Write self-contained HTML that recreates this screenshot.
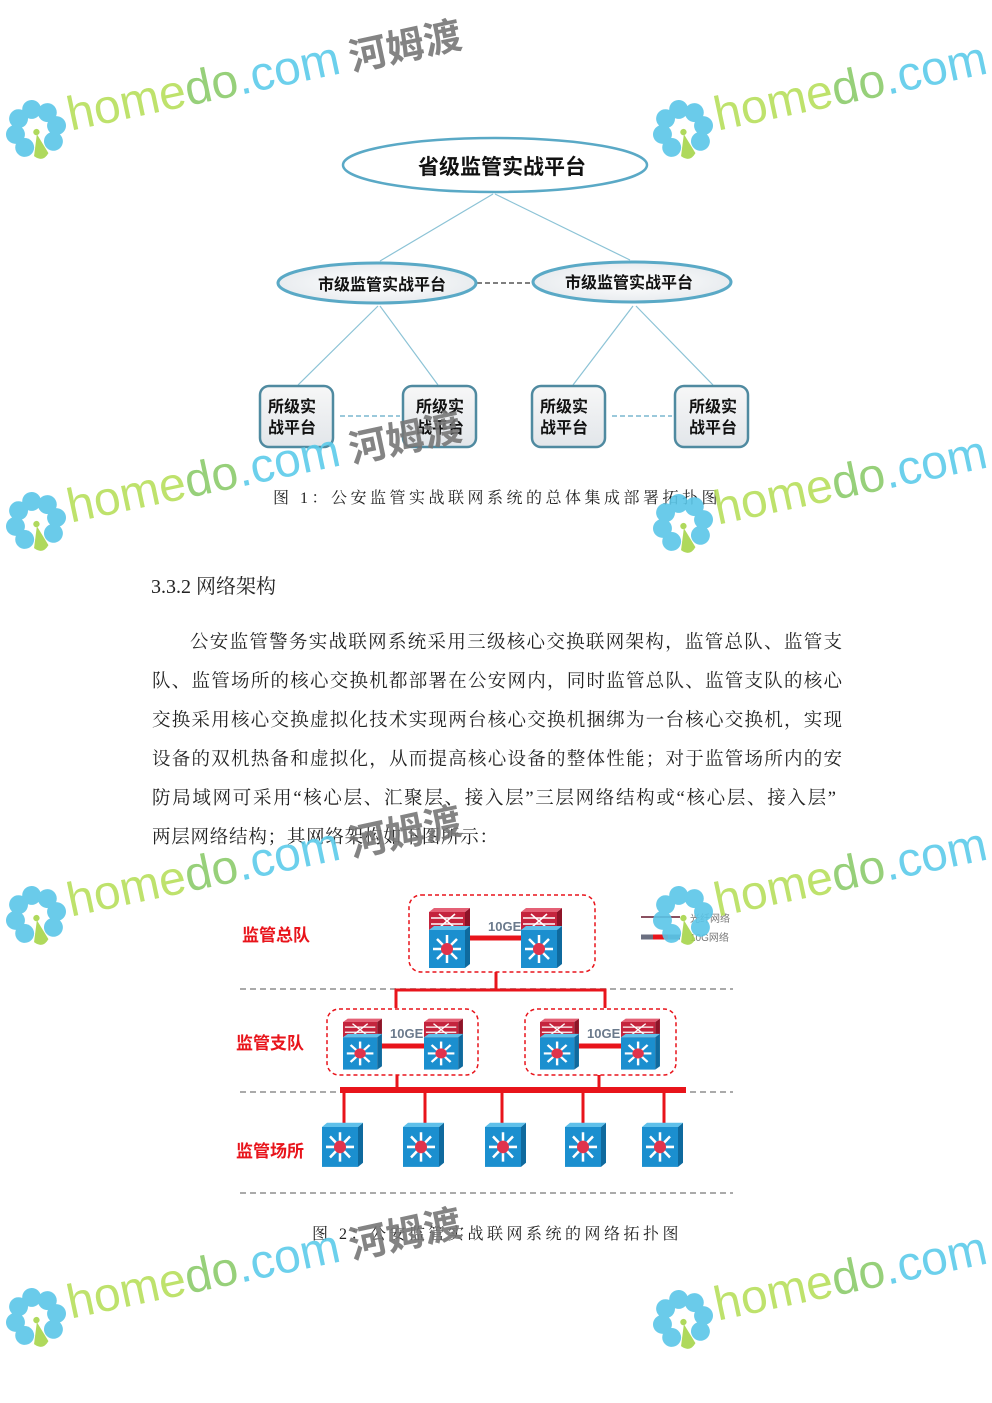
<!DOCTYPE html>
<html><head><meta charset="utf-8"><style>
html,body{margin:0;padding:0;background:#fff;}
svg{display:block;}
.s{font-family:"Liberation Serif","Noto Serif CJK SC",serif;fill:#222;}
.b{font-family:"Liberation Sans","Noto Sans CJK SC",sans-serif;font-weight:bold;fill:#111;}
.r{font-family:"Liberation Sans","Noto Sans CJK SC",sans-serif;font-weight:bold;fill:#e8141b;font-size:17px;}
.wm{font-family:"Liberation Sans","Noto Sans CJK SC",sans-serif;}
</style></head><body>
<svg width="992" height="1403" viewBox="0 0 992 1403" xmlns="http://www.w3.org/2000/svg">
<defs>
<radialGradient id="eg" cx="50%" cy="50%" r="60%"><stop offset="0" stop-color="#fff"/><stop offset="1" stop-color="#e4e8ec"/></radialGradient>
<linearGradient id="bg" x1="0" y1="0" x2="0" y2="1"><stop offset="0" stop-color="#f7f7f7"/><stop offset="1" stop-color="#e2e6ea"/></linearGradient>
<g id="flw">
<circle cx="0" cy="-20" r="9" fill="#5ac6e8"/><circle cx="14" cy="-14" r="9" fill="#5ac6e8"/><circle cx="20" cy="0" r="9" fill="#5ac6e8"/><circle cx="14" cy="14" r="9" fill="#5ac6e8"/><circle cx="-14" cy="14" r="9" fill="#5ac6e8"/><circle cx="-20" cy="0" r="9" fill="#5ac6e8"/><circle cx="-14" cy="-14" r="9" fill="#5ac6e8"/><path d="M0 4 L-7 24 Q0 32 7 24 Z" fill="#a6d54a"/><circle cx="0" cy="2" r="3" fill="#a6d54a"/>
</g>
<g id="sw">
<rect x="0" y="0" width="36" height="38" fill="#1b8fcf"/><polygon points="36,0 41,-4 41,34 36,38" fill="#0f6a9e"/><polygon points="0,0 5,-4 41,-4 36,0" fill="#5fc0ea"/>
<g stroke="#fff" stroke-width="2.5"><line x1="18" y1="5" x2="18" y2="33"/><line x1="4" y1="19" x2="32" y2="19"/><line x1="8" y1="9" x2="28" y2="29"/><line x1="28" y1="9" x2="8" y2="29"/></g>
<circle cx="18" cy="19" r="6" fill="#e0334c"/>
</g>
<g id="rt">
<rect x="0" y="0" width="36" height="18" fill="#c4243d"/><polygon points="36,0 41,-4 41,14 36,18" fill="#8e1428"/><polygon points="0,0 5,-4 41,-4 36,0" fill="#e46075"/>
<g stroke="#fff" stroke-width="1.5"><line x1="2" y1="6" x2="34" y2="6"/><line x1="2" y1="12" x2="34" y2="12"/><line x1="10" y1="2" x2="26" y2="16"/><line x1="26" y1="2" x2="10" y2="16"/></g>
</g>
</defs>

<!-- Diagram 1 -->
<g stroke="#8cc3d6" stroke-width="1.2" fill="none">
<line x1="493" y1="194" x2="380" y2="261"/><line x1="495" y1="194" x2="630" y2="260"/>
<line x1="378" y1="306" x2="298" y2="385"/><line x1="380" y1="306" x2="438" y2="385"/>
<line x1="633" y1="306" x2="573" y2="385"/><line x1="636" y1="306" x2="713" y2="385"/>
</g>
<line x1="477" y1="283" x2="533" y2="283" stroke="#555" stroke-width="1.5" stroke-dasharray="5,3"/>
<line x1="340" y1="416" x2="400" y2="416" stroke="#7ab7cf" stroke-width="1.5" stroke-dasharray="5,3"/>
<line x1="612" y1="416" x2="672" y2="416" stroke="#7ab7cf" stroke-width="1.5" stroke-dasharray="5,3"/>
<ellipse cx="495" cy="165" rx="152" ry="27" fill="#fff" stroke="#5aa9c6" stroke-width="2.5"/>
<text x="502" y="174" class="b" font-size="21" text-anchor="middle">省级监管实战平台</text>
<ellipse cx="377" cy="283" rx="99" ry="20" fill="url(#eg)" stroke="#5aa9c6" stroke-width="3"/>
<text x="382" y="290" class="b" font-size="16" text-anchor="middle">市级监管实战平台</text>
<ellipse cx="632" cy="282" rx="99" ry="20" fill="url(#eg)" stroke="#5aa9c6" stroke-width="3"/>
<text x="629" y="288" class="b" font-size="16" text-anchor="middle">市级监管实战平台</text>
<g stroke="#4f8aa0" stroke-width="2.5" fill="url(#bg)">
<rect x="260" y="386" width="73" height="61" rx="9"/><rect x="403" y="386" width="73" height="61" rx="9"/>
<rect x="532" y="386" width="73" height="61" rx="9"/><rect x="675" y="386" width="73" height="61" rx="9"/>
</g>
<g class="b" font-size="16">
<text x="268" y="412">所级实</text><text x="268" y="433">战平台</text>
<text x="416" y="412">所级实</text><text x="416" y="433">战平台</text>
<text x="540" y="412">所级实</text><text x="540" y="433">战平台</text>
<text x="689" y="412">所级实</text><text x="689" y="433">战平台</text>
</g>
<text x="497" y="503" class="s" font-size="16" text-anchor="middle" letter-spacing="3.5">图 1：公安监管实战联网系统的总体集成部署拓扑图</text>

<text x="151" y="593" class="s" font-size="20">3.3.2 网络架构</text>
<g class="s" font-size="18.5">
<text x="190" y="648" textLength="652" lengthAdjust="spacing">公安监管警务实战联网系统采用三级核心交换联网架构，监管总队、监管支</text>
<text x="152" y="687" textLength="690" lengthAdjust="spacing">队、监管场所的核心交换机都部署在公安网内，同时监管总队、监管支队的核心</text>
<text x="152" y="726" textLength="690" lengthAdjust="spacing">交换采用核心交换虚拟化技术实现两台核心交换机捆绑为一台核心交换机，实现</text>
<text x="152" y="765" textLength="690" lengthAdjust="spacing">设备的双机热备和虚拟化，从而提高核心设备的整体性能；对于监管场所内的安</text>
<text x="152" y="804" textLength="684" lengthAdjust="spacing">防局域网可采用“核心层、汇聚层、接入层”三层网络结构或“核心层、接入层”</text>
<text x="152" y="843" textLength="346" lengthAdjust="spacing">两层网络结构；其网络架构如下图所示：</text>
</g>

<!-- Diagram 2 -->
<g stroke="#aaa" stroke-width="2" stroke-dasharray="6,4">
<line x1="240" y1="989" x2="733" y2="989"/><line x1="240" y1="1092" x2="733" y2="1092"/><line x1="240" y1="1193" x2="733" y2="1193"/>
</g>
<g fill="none" stroke="#e8141b" stroke-width="1.5" stroke-dasharray="4,3">
<rect x="409" y="895" width="186" height="77" rx="12"/>
<rect x="327" y="1009" width="151" height="66" rx="12"/>
<rect x="525" y="1009" width="151" height="66" rx="12"/>
</g>
<g stroke="#e8141b" stroke-width="3" fill="none">
<polyline points="496,972 496,990"/><polyline points="396,1008 396,990 605,990 605,1008"/>
<line x1="397" y1="1075" x2="397" y2="1090"/><line x1="599" y1="1075" x2="599" y2="1090"/>
<line x1="344" y1="1090" x2="344" y2="1123"/><line x1="425" y1="1090" x2="425" y2="1123"/><line x1="502" y1="1090" x2="502" y2="1123"/><line x1="583" y1="1090" x2="583" y2="1123"/><line x1="664" y1="1090" x2="664" y2="1123"/>
</g>
<rect x="340" y="1087" width="346" height="6" fill="#e8141b"/>
<g stroke="#e8141b" stroke-width="5">
<line x1="468" y1="938" x2="522" y2="938"/><line x1="378" y1="1046" x2="425" y2="1046"/><line x1="576" y1="1046" x2="623" y2="1046"/>
</g>
<g transform="translate(429,912)"><use href="#rt"/><g transform="translate(0,18)"><use href="#sw"/></g></g>
<g transform="translate(521,912)"><use href="#rt"/><g transform="translate(0,18)"><use href="#sw"/></g></g>
<g transform="translate(343,1022) scale(0.95,0.85)"><use href="#rt"/><g transform="translate(0,18)"><use href="#sw"/></g></g>
<g transform="translate(424,1022) scale(0.95,0.85)"><use href="#rt"/><g transform="translate(0,18)"><use href="#sw"/></g></g>
<g transform="translate(540,1022) scale(0.95,0.85)"><use href="#rt"/><g transform="translate(0,18)"><use href="#sw"/></g></g>
<g transform="translate(621,1022) scale(0.95,0.85)"><use href="#rt"/><g transform="translate(0,18)"><use href="#sw"/></g></g>
<g transform="translate(322,1127) scale(1,1.05)"><use href="#sw"/></g>
<g transform="translate(403,1127) scale(1,1.05)"><use href="#sw"/></g>
<g transform="translate(485,1127) scale(1,1.05)"><use href="#sw"/></g>
<g transform="translate(565,1127) scale(1,1.05)"><use href="#sw"/></g>
<g transform="translate(642,1127) scale(1,1.05)"><use href="#sw"/></g>
<g font-family="Liberation Sans, sans-serif" font-weight="bold" font-size="13" fill="#6b7a8c">
<text x="488" y="931">10GE</text><text x="390" y="1038">10GE</text><text x="587" y="1038">10GE</text>
</g>
<text x="242" y="941" class="r">监管总队</text>
<text x="236" y="1049" class="r">监管支队</text>
<text x="236" y="1157" class="r">监管场所</text>
<line x1="641" y1="917" x2="680" y2="917" stroke="#8a5060" stroke-width="2"/>
<line x1="641" y1="937" x2="680" y2="937" stroke="#6b6f80" stroke-width="5"/><line x1="653" y1="937" x2="668" y2="937" stroke="#e8141b" stroke-width="5"/>
<text x="690" y="922" font-family="Liberation Sans, Noto Sans CJK SC, sans-serif" font-size="10" fill="#777">光纤网络</text>
<text x="690" y="941" font-family="Liberation Sans, Noto Sans CJK SC, sans-serif" font-size="10" fill="#777">10G网络</text>
<text x="497" y="1239" class="s" font-size="16" text-anchor="middle" letter-spacing="3.5">图 2：公安监管实战联网系统的网络拓扑图</text>

<!-- Watermarks -->
<g opacity="0.9">
<g transform="translate(36,130) rotate(-12)"><use href="#flw" transform="scale(1.05)"/><text x="34" y="8" class="wm" font-size="48"><tspan fill="#b7df5c">home</tspan><tspan fill="#8ccb6b">do</tspan><tspan fill="#5ccbea">.com</tspan><tspan fill="#777" font-weight="bold" font-size="38" dx="10">河姆渡</tspan></text></g>
<g transform="translate(36,522) rotate(-12)"><use href="#flw" transform="scale(1.05)"/><text x="34" y="8" class="wm" font-size="48"><tspan fill="#b7df5c">home</tspan><tspan fill="#8ccb6b">do</tspan><tspan fill="#5ccbea">.com</tspan><tspan fill="#777" font-weight="bold" font-size="38" dx="10">河姆渡</tspan></text></g>
<g transform="translate(36,916) rotate(-12)"><use href="#flw" transform="scale(1.05)"/><text x="34" y="8" class="wm" font-size="48"><tspan fill="#b7df5c">home</tspan><tspan fill="#8ccb6b">do</tspan><tspan fill="#5ccbea">.com</tspan><tspan fill="#777" font-weight="bold" font-size="38" dx="10">河姆渡</tspan></text></g>
<g transform="translate(36,1318) rotate(-12)"><use href="#flw" transform="scale(1.05)"/><text x="34" y="8" class="wm" font-size="48"><tspan fill="#b7df5c">home</tspan><tspan fill="#8ccb6b">do</tspan><tspan fill="#5ccbea">.com</tspan><tspan fill="#777" font-weight="bold" font-size="38" dx="10">河姆渡</tspan></text></g>
<g transform="translate(683,130) rotate(-12)"><use href="#flw" transform="scale(1.05)"/><text x="34" y="8" class="wm" font-size="48"><tspan fill="#b7df5c">home</tspan><tspan fill="#8ccb6b">do</tspan><tspan fill="#5ccbea">.com</tspan></text></g>
<g transform="translate(683,524) rotate(-12)"><use href="#flw" transform="scale(1.05)"/><text x="34" y="8" class="wm" font-size="48"><tspan fill="#b7df5c">home</tspan><tspan fill="#8ccb6b">do</tspan><tspan fill="#5ccbea">.com</tspan></text></g>
<g transform="translate(683,916) rotate(-12)"><use href="#flw" transform="scale(1.05)"/><text x="34" y="8" class="wm" font-size="48"><tspan fill="#b7df5c">home</tspan><tspan fill="#8ccb6b">do</tspan><tspan fill="#5ccbea">.com</tspan></text></g>
<g transform="translate(683,1320) rotate(-12)"><use href="#flw" transform="scale(1.05)"/><text x="34" y="8" class="wm" font-size="48"><tspan fill="#b7df5c">home</tspan><tspan fill="#8ccb6b">do</tspan><tspan fill="#5ccbea">.com</tspan></text></g>
</g>
</svg>
</body></html>
